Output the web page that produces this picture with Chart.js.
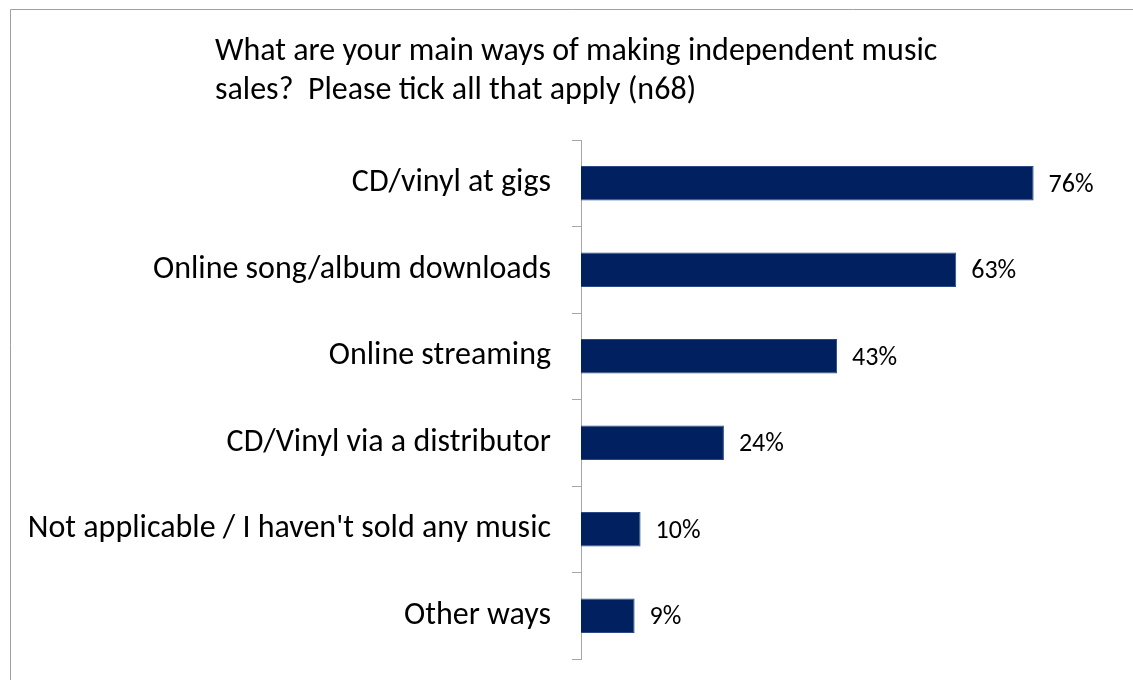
<!DOCTYPE html>
<html>
<head>
<meta charset="utf-8">
<script src="https://cdn.jsdelivr.net/npm/chart.js@4"></script>
<style>
  html, body { margin: 0; padding: 0; background: #ffffff; }
  #wrap { width: 1133px; height: 680px; position: relative; }
</style>
</head>
<body>
<div id="wrap"><canvas id="c" width="1133" height="680"></canvas></div>
<script>
const categories = [
  'CD/vinyl at gigs',
  'Online song/album downloads',
  'Online streaming',
  'CD/Vinyl via a distributor',
  "Not applicable / I haven't sold any music",
  'Other ways'
];
const shares = [76, 63, 43, 24, 10, 9];
const titleLines = [
  'What are your main ways of making independent music',
  'sales?  Please tick all that apply (n68)'
];

const FONT = 'Carlito, Calibri, Lato, "Liberation Sans", sans-serif';

// white page with a thin grey frame on the top and left edges
const framePlugin = {
  id: 'frame',
  beforeDraw(chart) {
    const ctx = chart.ctx;
    ctx.save();
    ctx.fillStyle = '#ffffff';
    ctx.fillRect(0, 0, chart.width, chart.height);
    ctx.strokeStyle = '#a0a0a0';
    ctx.lineWidth = 1;
    ctx.beginPath();
    ctx.moveTo(10.5, chart.height);
    ctx.lineTo(10.5, 9.5);
    ctx.lineTo(chart.width, 9.5);
    ctx.stroke();
    ctx.restore();
  }
};

// two-line heading, left aligned
const headingPlugin = {
  id: 'heading',
  afterDraw(chart) {
    const ctx = chart.ctx;
    ctx.save();
    ctx.fillStyle = '#000000';
    ctx.font = '32px ' + FONT;
    ctx.textAlign = 'left';
    ctx.textBaseline = 'alphabetic';
    titleLines.forEach((line, i) => ctx.fillText(line, 215, 60 + i * 39));
    ctx.restore();
  }
};

// percentage written just past the end of each bar
const valueLabelPlugin = {
  id: 'valueLabels',
  afterDatasetsDraw(chart) {
    const ctx = chart.ctx;
    const meta = chart.getDatasetMeta(0);
    ctx.save();
    ctx.fillStyle = '#000000';
    ctx.font = '26px ' + FONT;
    ctx.textAlign = 'left';
    ctx.textBaseline = 'middle';
    meta.data.forEach((bar, i) => {
      ctx.fillText(shares[i] + '%', bar.x + 15, bar.y + 2);
    });
    ctx.restore();
  }
};

new Chart(document.getElementById('c'), {
  type: 'bar',
  data: {
    labels: categories,
    datasets: [{
      data: shares,
      backgroundColor: '#002060',
      borderColor: '#2a4a85',
      borderWidth: 1,
      barPercentage: 0.4,
      categoryPercentage: 1.0
    }]
  },
  options: {
    indexAxis: 'y',
    responsive: false,
    animation: false,
    layout: { padding: { top: 140, bottom: 21, left: 0, right: 16 } },
    plugins: {
      legend: { display: false },
      tooltip: { enabled: false },
      title: { display: false }
    },
    scales: {
      x: {
        display: false,
        min: 0,
        max: 90
      },
      y: {
        afterFit(scale) {
          scale.width = 581;
          scale.paddingTop = 0;
          scale.paddingBottom = 0;
        },
        border: { display: true, color: '#a6a6a6', width: 1 },
        grid: {
          display: true,
          offset: true,
          drawOnChartArea: false,
          drawTicks: true,
          tickLength: 9,
          color: '#a6a6a6'
        },
        ticks: {
          color: '#000000',
          font: { family: FONT, size: 32 },
          padding: 21
        }
      }
    }
  },
  plugins: [framePlugin, headingPlugin, valueLabelPlugin]
});
</script>
</body>
</html>
